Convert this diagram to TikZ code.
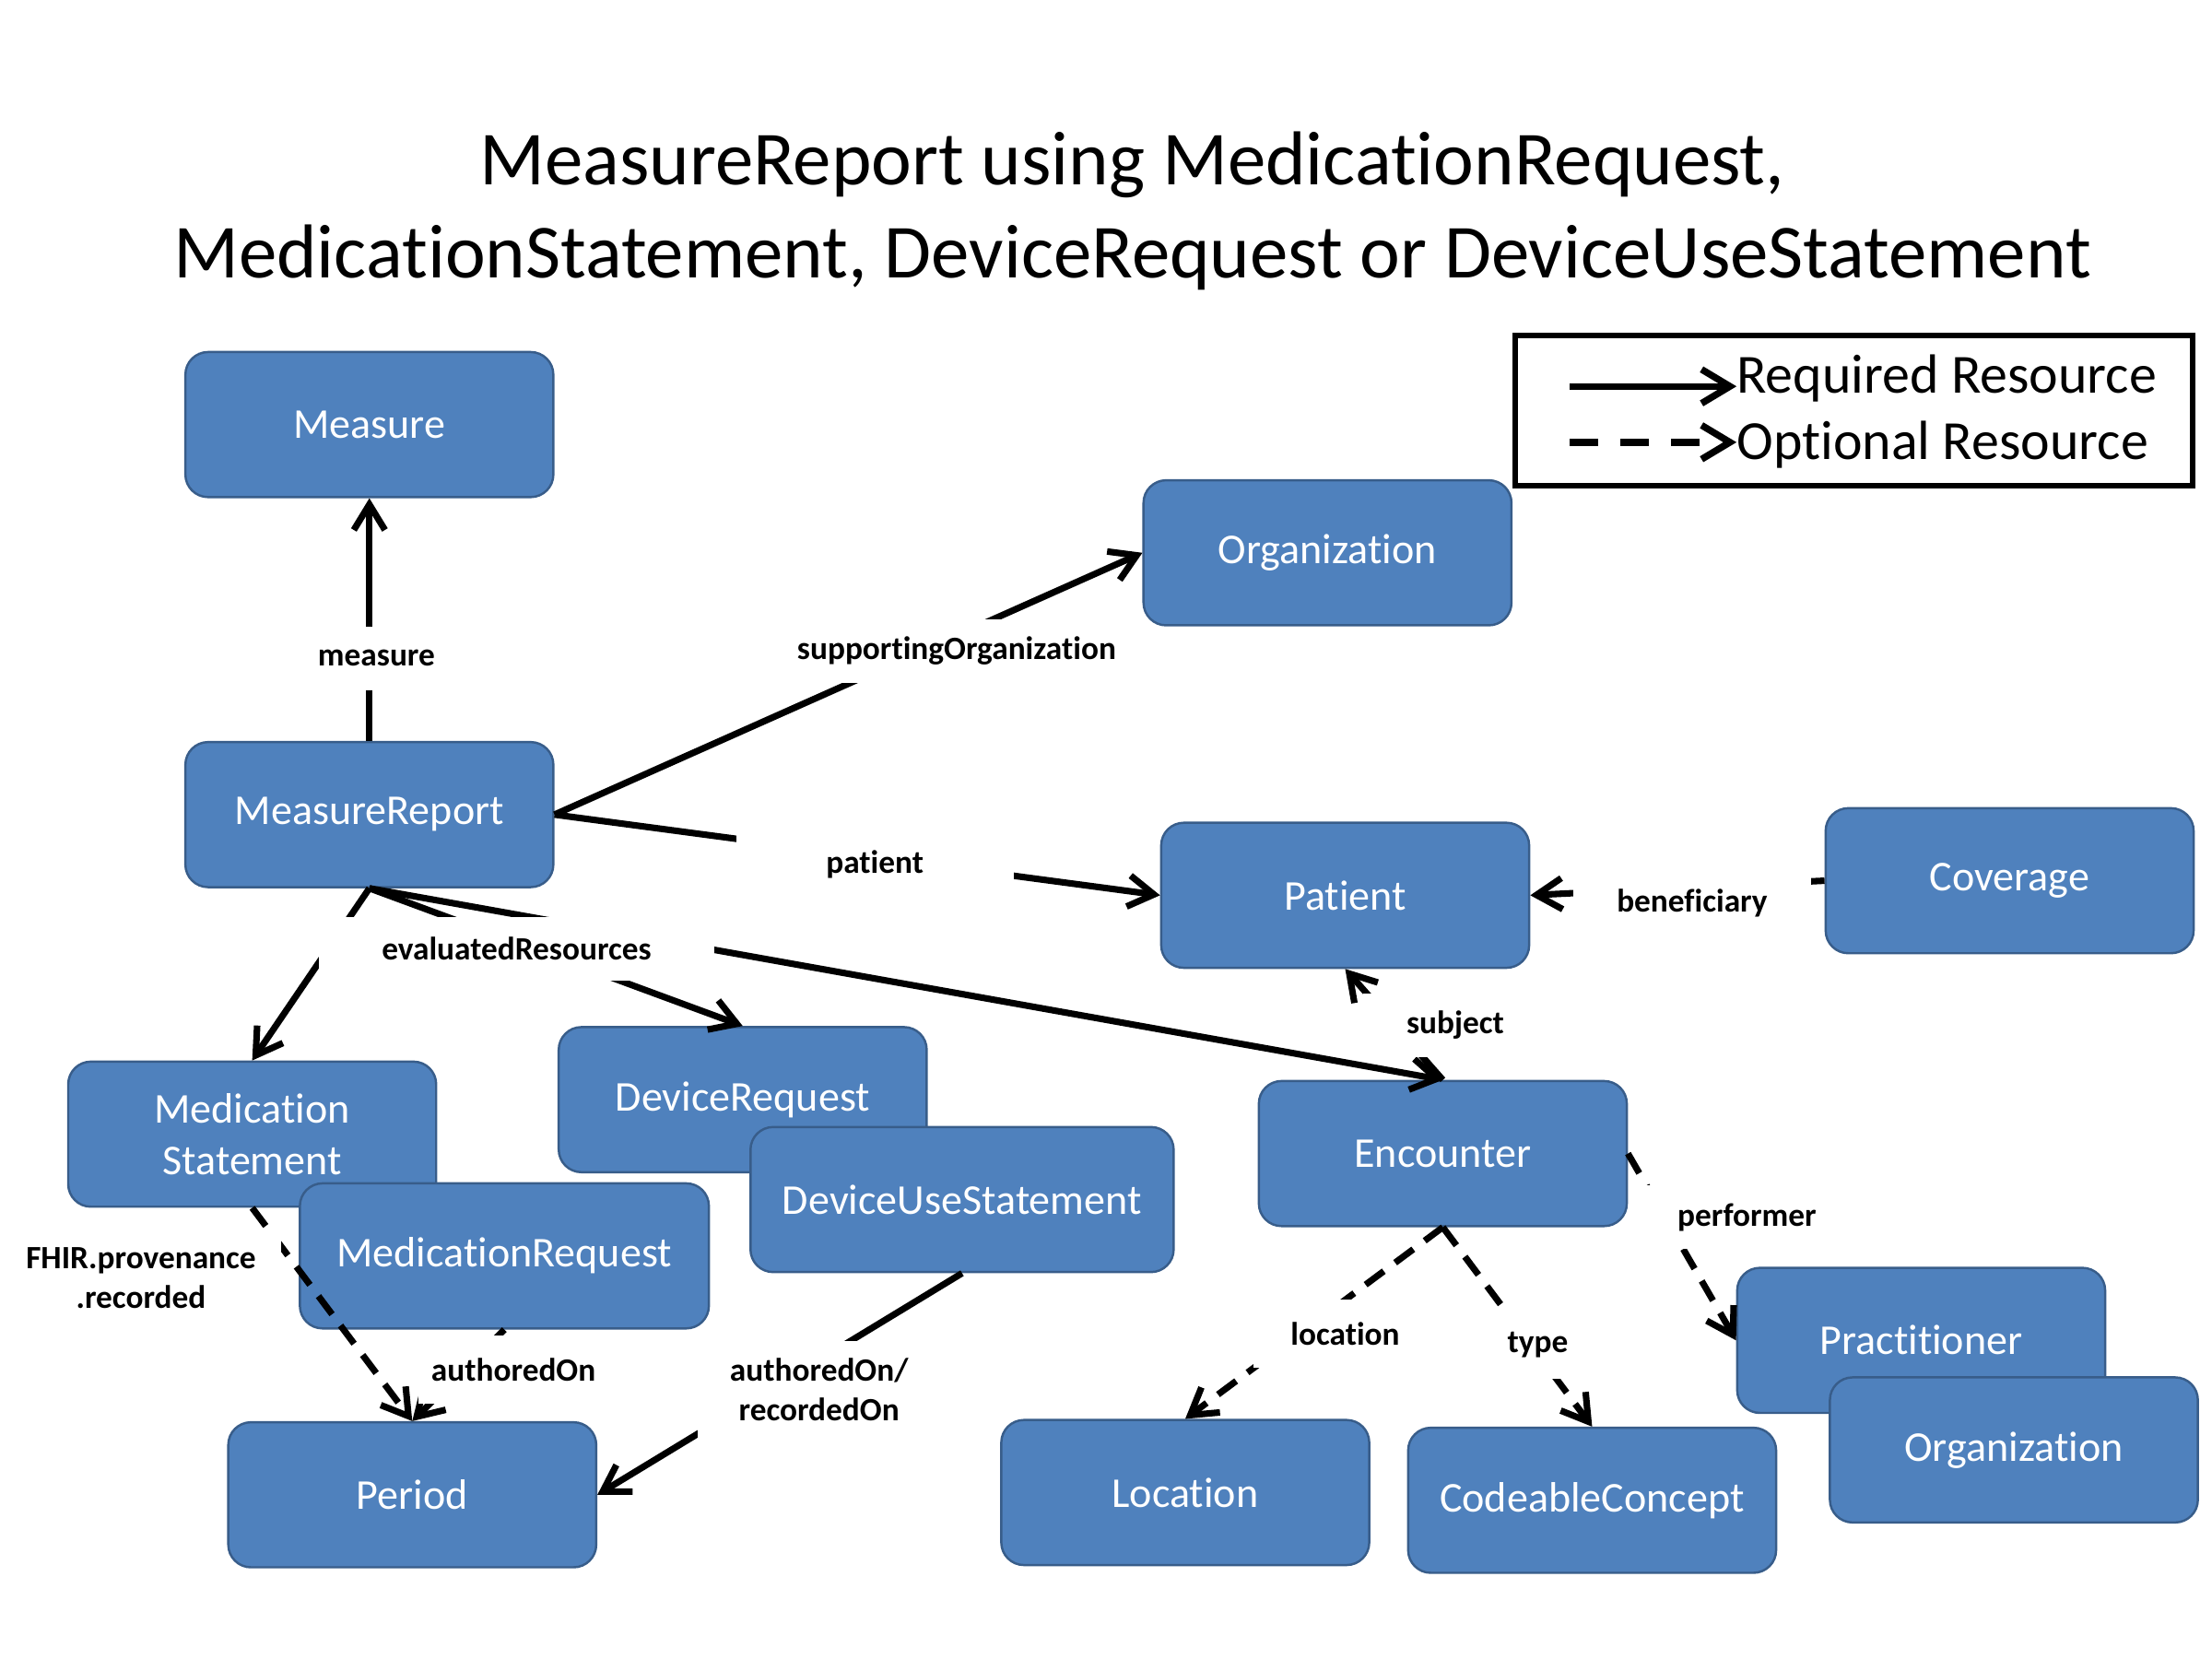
\documentclass[tikz,border=0pt]{standalone}
\usepackage{fontspec}
\setmainfont[Ligatures=NoCommon]{Carlito}
\usepackage{tikz}
\usetikzlibrary{arrows.meta, positioning}
\definecolor{boxfill}{RGB}{79,129,189}
\definecolor{boxborder}{RGB}{56,93,138}
\tikzset {
    >={Straight Barb[length=18pt, width=22pt]},
    node distance=3cm,
    resource/.style={rectangle, rounded corners=16pt, draw=boxborder, line width=1.6pt,
        fill=boxfill, text=white, font=\fontsize{30}{36}\selectfont, align=center,
        minimum width=260pt, minimum height=102.5pt},
    rel/.style={fill=white, text=black, font=\bfseries\fontsize{23}{28}\selectfont,
        align=center, inner sep=4pt, minimum height=45pt},
    req/.style={->, line width=4.6pt},
    opt/.style={->, line width=4.6pt, dash pattern=on 16pt off 10pt},
    legendline/.style={->, line width=4.8pt, >={Straight Barb[length=20pt, width=24pt]}}
}

\begin{document}
\begin{tikzpicture}[x=1pt, y=-1pt]
    \path[use as bounding box, fill=white] (0,0) rectangle (1563,1172);

    \node[font=\fontsize{54}{66}\selectfont, align=center] (title) at (800,149)
        {MeasureReport using MedicationRequest,\\MedicationStatement, DeviceRequest or DeviceUseStatement};

    \node[draw, line width=4pt, minimum width=479pt, minimum height=106pt, inner sep=0pt] (legend) at (1310,290) {};
    \node[anchor=base west, inner sep=0pt, font=\fontsize{39}{42}\selectfont] (legendReq) at (1227,278) {Required Resource};
    \node[anchor=base west, inner sep=0pt, font=\fontsize{39}{42}\selectfont] (legendOpt) at (1227,324.5) {Optional Resource};
    \coordinate (legendReqStart) at (1109,273);
    \coordinate (legendOptStart) at (1109,312.5);
    \draw[legendline] (legendReqStart) -- (legendReqStart -| legendReq.west);
    \draw[legendline, dash pattern=on 20pt off 16pt] (legendOptStart) -- (legendOptStart -| legendOpt.west);

    \node[resource] (Measure) at (261,300) {Measure};
    \node[resource, below of=Measure, node distance=275.6pt] (MeasureReport) {MeasureReport};
    \node[resource, right of=MeasureReport, node distance=689.5pt, yshift=-57pt] (Patient) {Patient};
    \node[resource, above of=Patient, node distance=242pt, xshift=-12.5pt] (OrgSupport) {Organization};
    \node[resource, right of=Patient, node distance=469.5pt, yshift=10.3pt] (Coverage) {Coverage};
    \node[resource, below of=Patient, node distance=182.5pt, xshift=69pt] (Encounter) {Encounter};
    \node[resource, right of=Encounter, node distance=338pt, yshift=-132pt] (Practitioner) {Practitioner};
    \node[resource, right of=Practitioner, node distance=65.5pt, yshift=-77.4pt] (OrgPerformer) {Organization};
    \node[resource, below of=Encounter, node distance=239.5pt, xshift=-182pt] (Location) {Location};
    \node[resource, below of=Encounter, node distance=245pt, xshift=105.5pt] (CodeableConcept) {CodeableConcept};
    \node[resource, below of=MeasureReport, node distance=225.8pt, xshift=-82.8pt] (MedStatement) {Medication\\Statement};
    \node[resource, right of=MedStatement, node distance=178.2pt, yshift=-86pt, minimum width=289pt] (MedRequest) {MedicationRequest};
    \node[resource, right of=MedStatement, node distance=346.6pt, yshift=24.4pt] (DeviceRequest) {DeviceRequest};
    \node[resource, right of=DeviceRequest, node distance=155pt, yshift=-70.6pt, minimum width=299pt] (DeviceUse) {DeviceUseStatement};
    \node[resource, below of=MedStatement, node distance=254.8pt, xshift=113.1pt] (Period) {Period};

    \draw[req] (MeasureReport) -- node[rel, pos=0.34, xshift=5pt] (lblMeasure) {measure} (Measure);
    \draw[req] (MeasureReport.east) -- node[rel, pos=0.684, yshift=-11pt] (lblSupport) {supportingOrganization} (OrgSupport.west);
    \draw[req] (MeasureReport.east) -- node[rel, pos=0.529, yshift=-5pt, minimum width=196pt] (lblPatient) {patient} (Patient.west);

    \draw[req] (MeasureReport.south) -- (MedStatement.north);
    \draw[req] (MeasureReport.south) -- (DeviceRequest.north);
    \draw[req] (MeasureReport.south) -- (Encounter.north);
    \node[rel, below of=MeasureReport, node distance=95pt, xshift=104pt, minimum width=279pt] (lblEvaluated) {evaluatedResources};

    \draw[req] (Coverage.west) -- node[rel, pos=0.45, yshift=-11pt, minimum width=168pt] (lblBeneficiary) {beneficiary} (Patient.east);
    \draw[req] (Encounter.north) -- node[rel, pos=0.495, xshift=43pt, minimum width=130pt] (lblSubject) {subject} (Patient.south);

    \draw[opt] (Encounter.east) -- node[rel, pos=0.342, xshift=58pt, minimum width=146pt] (lblPerformer) {performer} (Practitioner.west);
    \draw[opt] (Encounter.south) -- node[rel, pos=0.555, xshift=32pt, minimum width=130pt, minimum height=48pt] (lblLocation) {location} (Location.north);
    \draw[opt] (Encounter.south) -- node[rel, pos=0.589, xshift=5pt, minimum height=48pt] (lblType) {type} (CodeableConcept.north);

    \draw[opt] (MedStatement.south) -- node[rel, pos=0.331, xshift=-116pt, minimum width=198pt, minimum height=70pt] (lblProvenance) {FHIR.provenance\\.recorded} (Period.north);
    \draw[req] (MedRequest.south) -- node[rel, pos=0.439, xshift=35pt, minimum width=134pt, minimum height=48pt] (lblAuthored) {authoredOn} (Period.north);
    \draw[req] (DeviceUse.south) -- node[rel, pos=0.524, xshift=34pt, minimum width=172pt, minimum height=68pt] (lblRecorded) {authoredOn/\\recordedOn} (Period.east);
\end{tikzpicture}
\end{document}
